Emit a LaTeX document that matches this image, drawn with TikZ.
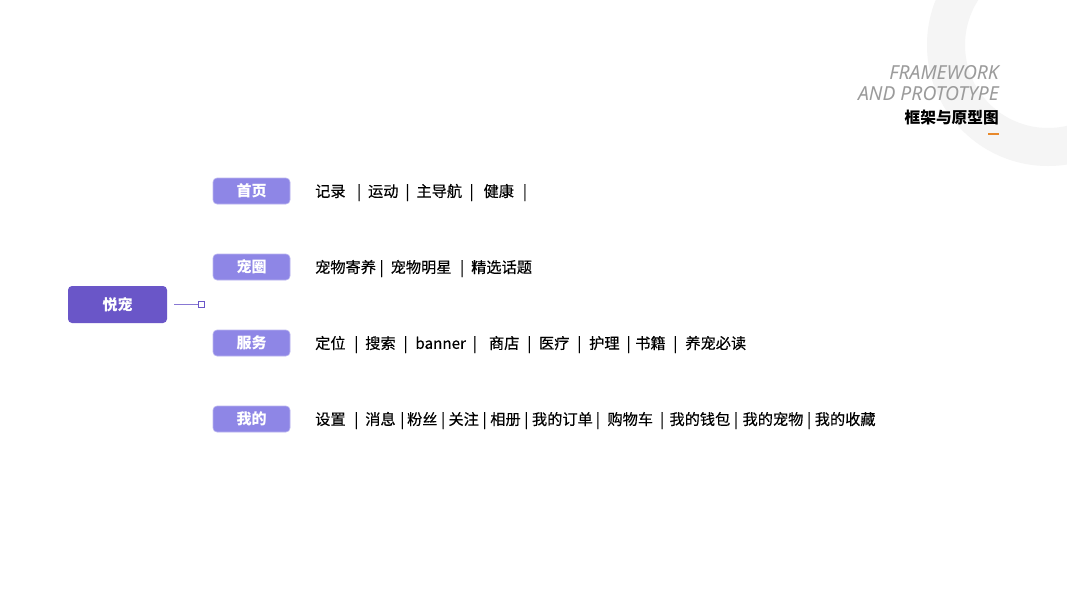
\documentclass[tikz,border=0pt]{standalone}
\usepackage{fontspec}
\setmainfont{Noto Sans CJK SC}
\newfontfamily\enfont{Noto Sans}
\newfontfamily\itemfont{Noto Sans CJK SC}[FakeBold=0.3]
\usetikzlibrary{positioning}
\definecolor{Root}{HTML}{6A56C8}
\definecolor{Cat}{HTML}{8E86E6}
\definecolor{Ring}{HTML}{F5F5F5}
\definecolor{TitleGrey}{HTML}{9B9B9B}
\definecolor{Accent}{HTML}{E8892B}
% separator bar: gap before, gap after (pt)
\newcommand\vb[2]{\hspace{#1pt}\makebox[0pt]{|}\hspace{#2pt}}

\tikzset{
  rootbox/.style={fill=Root,rounded corners=4pt,minimum width=99pt,minimum height=37pt,
    text=white,font=\fontsize{15}{15}\selectfont\bfseries,inner sep=0pt},
  catbox/.style={fill=Cat,draw=Cat!60!white,line width=.6pt,rounded corners=4pt,minimum width=77pt,minimum height=26pt,
    text=white,font=\fontsize{15}{15}\selectfont\bfseries,inner sep=0pt},
  items/.style={anchor=west,inner sep=0pt,font=\itemfont\fontsize{15.2}{15.2}\selectfont},
  tag/.style={anchor=east,inner sep=0pt},
}

\begin{document}
\begin{tikzpicture}[x=1pt,y=-1pt]
        \useasboundingbox[fill=white] (0,0) rectangle (1067,600);
        % background ring
        \fill[Ring,even odd rule] (1048,45) circle (121pt) (1048,45) circle (83pt);
        % title
        \node[tag,text=TitleGrey,font=\enfont\fontsize{19.3}{19.3}\selectfont\itshape] (tEn1) at (999,73) {FRAMEWORK};
        \node[tag,text=TitleGrey,font=\enfont\fontsize{19.3}{19.3}\selectfont\itshape] (tEn2) at (999,94) {AND PROTOTYPE};
        \node[tag,font=\fontsize{15.7}{15.7}\selectfont\bfseries] (tCn) at (999,117.5) {框架与原型图};
        \fill[Accent] (988,133) rectangle (999,135);
        % tree
        \node[rootbox] (root) at (117.5,304.5) {悦宠};
        \node[draw=Root,fill=white,line width=1pt,minimum size=6pt,inner sep=0pt] (dot) at (201.5,304.5) {};
        \draw[Root!80,line width=1.2pt] ([xshift=7pt]root.east) -- (dot);
        \node[catbox] (home) at (251.5,191) {首页};
        \node[catbox] (circle) at (251.5,267) {宠圈};
        \node[catbox] (service) at (251.5,343) {服务};
        \node[catbox] (mine) at (251.5,419) {我的};
        \node[items] (homeList) at (315,192.5) {记录\vb{13.5}{9}运动\vb{9}{9}主导航\vb{9.5}{12}健康\vb{11}{0}};
        \node[items] (circleList) at (315,268.5) {宠物寄养\vb{5.7}{9}宠物明星\vb{10.7}{9}精选话题};
        \node[items] (serviceList) at (315,344.5) {定位\vb{10.7}{9}搜索\vb{10}{9.7}banner\vb{9}{14}商店\vb{10}{9.7}医疗\vb{10}{9.7}护理\vb{9}{6.7}书籍\vb{9.7}{10}养宠必读};
        \node[items] (mineList) at (315,420.5) {设置\vb{10.7}{9}消息\vb{6.7}{4.7}粉丝\vb{5.7}{5.3}关注\vb{5.7}{5.7}相册\vb{5.6}{5.7}我的订单\vb{5}{9.7}购物车\vb{9}{7.4}我的钱包\vb{5.7}{6.6}我的宠物\vb{5.7}{5.7}我的收藏};
      \end{tikzpicture}
\end{document}
